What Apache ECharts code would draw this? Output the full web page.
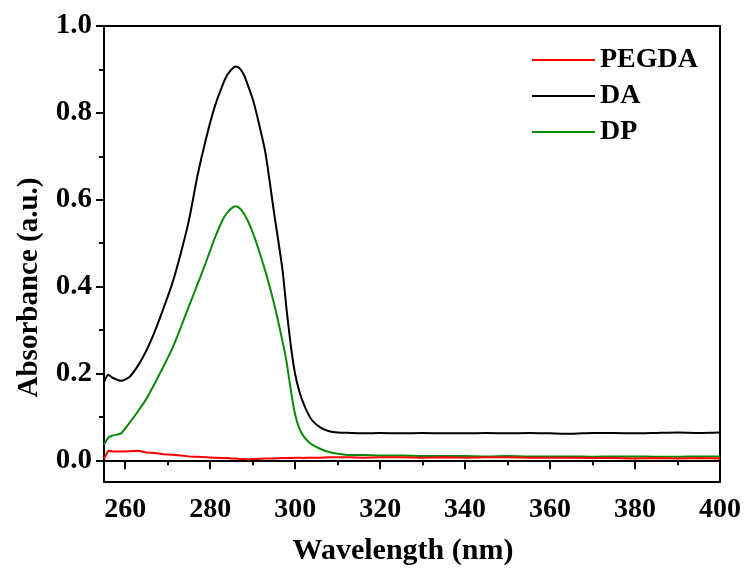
<!DOCTYPE html>
<html>
<head>
<meta charset="utf-8">
<script src="https://cdn.jsdelivr.net/npm/echarts@6/dist/echarts.min.js"></script>
<style>html,body{margin:0;padding:0;background:#fff;}#c{width:746px;height:571px;}</style>
</head>
<body>
<div id="c"></div>
<script>
const wavelength = [255,256,257,259,261,263,265,267,269,271,273,275,277,279,281,283,284,285,286,287,288,289,290,291,293,295,297,298,299,300,301,302,303,304,306,308,310,313,316,320,325,330,335,340,345,350,355,360,365,370,375,380,385,390,395,400];
const daAbs = [0.180,0.197,0.190,0.183,0.192,
  0.218,0.253,0.298,0.350,0.405,
  0.474,0.553,0.655,0.740,0.812,
  0.866,0.887,0.900,0.907,0.902,0.886,0.860,
  0.832,0.795,0.708,0.572,0.440,
  0.345,0.262,0.198,0.158,0.130,
  0.108,0.092,0.075,0.067,0.064,
  0.063,0.062,0.063,0.062,0.063,
  0.062,0.062,0.063,0.062,0.063,
  0.062,0.061,0.063,0.063,0.062,
  0.063,0.064,0.063,0.064];
const dpAbs = [0.036,0.052,0.057,0.062,0.086,
  0.113,0.142,0.178,0.216,0.256,
  0.304,0.355,0.405,0.456,0.510,
  0.555,0.570,0.580,0.585,0.580,0.567,0.548,
  0.525,0.497,0.435,0.362,0.275,
  0.225,0.160,0.105,0.073,0.055,
  0.044,0.036,0.026,0.019,0.015,
  0.012,0.012,0.011,0.011,0.010,
  0.010,0.010,0.009,0.010,0.009,
  0.009,0.009,0.008,0.009,0.009,
  0.008,0.008,0.009,0.009];
const pegdaAbs = [0.003,0.022,0.020,0.020,0.021,
  0.022,0.018,0.017,0.014,0.013,
  0.011,0.009,0.008,0.007,0.006,
  0.005,0.005,0.004,0.004,0.003,0.003,0.002,
  0.003,0.003,0.004,0.004,0.005,
  0.005,0.005,0.006,0.006,0.005,
  0.006,0.006,0.006,0.007,0.007,
  0.007,0.006,0.007,0.007,0.006,
  0.007,0.006,0.007,0.007,0.006,
  0.006,0.006,0.005,0.005,0.004,
  0.005,0.004,0.005,0.004];
const xMajorTicks = [260,280,300,320,340,360,380,400];
const xMinorTicks = [270,290,310,330,350,370,390];
const yMajorTicks = [0.0,0.2,0.4,0.6,0.8,1.0];
const yMinorTicks = [0.1,0.3,0.5,0.7,0.9];
const seriesNames = ['PEGDA','DA','DP'];

const FONT = '"Liberation Serif","Times New Roman",serif';
const pair = arr => wavelength.map((w,i)=>[w,arr[i]]);

const chart = echarts.init(document.getElementById('c'), null, {renderer:'canvas'});
const axisLineStyle = {color:'#000', width:2};
chart.setOption({
  animation:false,
  backgroundColor:'#fff',
  grid:{left:104,right:26,top:26,bottom:86,show:true,borderColor:'#000',borderWidth:2,backgroundColor:'transparent'},
  legend:{
    orient:'vertical', left:527, top:41, icon:'rect', itemWidth:63, itemHeight:2, itemGap:8,
    textStyle:{fontFamily:FONT,fontWeight:'bold',fontSize:28,color:'#000',lineHeight:28},
    data:seriesNames
  },
  xAxis:[{
    type:'value', min:255, max:400, position:'bottom',
    name:'Wavelength (nm)', nameLocation:'middle', nameGap:54,
    nameTextStyle:{fontFamily:FONT,fontWeight:'bold',fontSize:30,color:'#000',padding:[0,18,0,0]},
    axisLine:{show:true,lineStyle:axisLineStyle},
    axisTick:{show:true,customValues:xMajorTicks,length:9,lineStyle:{color:'#000',width:2}},
    axisLabel:{show:true,customValues:xMajorTicks,margin:14,fontFamily:FONT,fontWeight:'bold',fontSize:28,color:'#000'},
    splitLine:{show:false}
  },{
    type:'value', min:255, max:400, position:'bottom',
    axisLine:{show:false},
    axisTick:{show:true,customValues:xMinorTicks,length:5,lineStyle:{color:'#000',width:2}},
    axisLabel:{show:false},
    splitLine:{show:false}
  }],
  yAxis:[{
    type:'value', min:-0.05, max:1.0, position:'left',
    name:'Absorbance (a.u.)', nameLocation:'middle', nameGap:60,
    nameTextStyle:{fontFamily:FONT,fontWeight:'bold',fontSize:29,color:'#000',padding:[0,67,0,0]},
    axisLine:{show:true,lineStyle:axisLineStyle},
    axisTick:{show:true,customValues:yMajorTicks,length:8,lineStyle:{color:'#000',width:2}},
    axisLabel:{show:true,customValues:yMajorTicks,margin:12,fontFamily:FONT,fontWeight:'bold',fontSize:29,color:'#000',
      formatter:v=>Number(v).toFixed(1)},
    splitLine:{show:false}
  },{
    type:'value', min:-0.05, max:1.0, position:'left', offset:0,
    axisLine:{show:false},
    axisTick:{show:true,customValues:yMinorTicks,length:5,lineStyle:{color:'#000',width:2}},
    axisLabel:{show:false},
    splitLine:{show:false}
  }],
  series:[
    {name:'DA',type:'line',data:pair(daAbs),symbol:'none',smooth:0.2,lineStyle:{color:'#000',width:2},itemStyle:{color:'#000'},z:2},
    {name:'DP',type:'line',data:pair(dpAbs),symbol:'none',smooth:0.2,lineStyle:{color:'#0a8a0a',width:2},itemStyle:{color:'#0a8a0a'},z:3},
    {name:'PEGDA',type:'line',data:pair(pegdaAbs),symbol:'none',smooth:false,lineStyle:{color:'#ff0000',width:2},itemStyle:{color:'#ff0000'},z:4}
  ]
});
</script>
</body>
</html>
